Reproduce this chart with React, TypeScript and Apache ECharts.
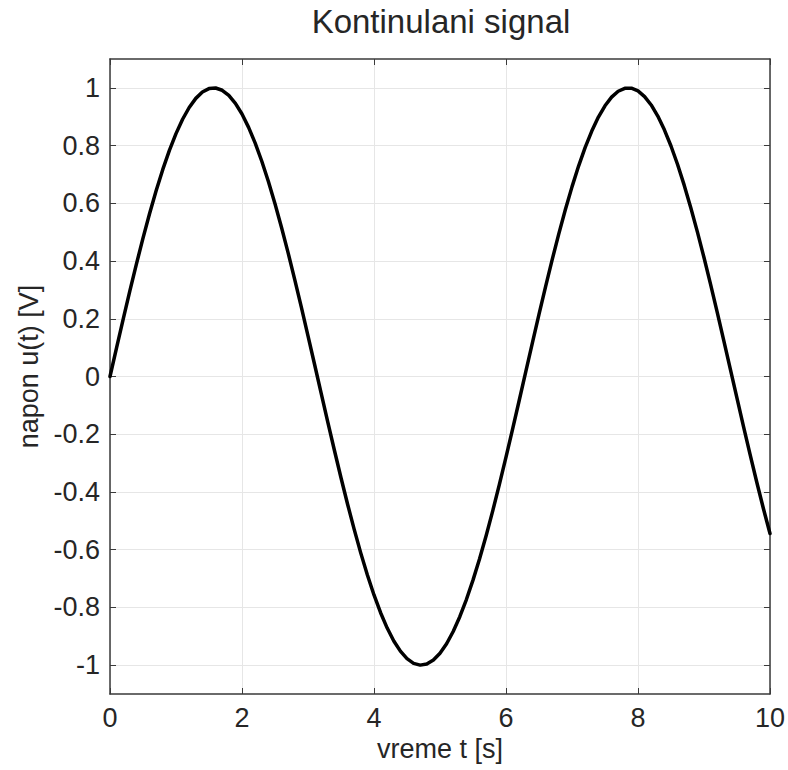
import React, { useEffect, useRef } from "react";
import * as echarts from "echarts";

const titleText = "Kontinulani signal";
const xName = "vreme t [s]";
const yName = "napon u(t) [V]";

// time samples [s] and voltage values
const timeValues = [
  0, 0.1, 0.2, 0.3, 0.4, 0.5, 0.6, 0.7, 0.8, 0.9,
  1, 1.1, 1.2, 1.3, 1.4, 1.5, 1.6, 1.7, 1.8, 1.9,
  2, 2.1, 2.2, 2.3, 2.4, 2.5, 2.6, 2.7, 2.8, 2.9,
  3, 3.1, 3.2, 3.3, 3.4, 3.5, 3.6, 3.7, 3.8, 3.9,
  4, 4.1, 4.2, 4.3, 4.4, 4.5, 4.6, 4.7, 4.8, 4.9,
  5, 5.1, 5.2, 5.3, 5.4, 5.5, 5.6, 5.7, 5.8, 5.9,
  6, 6.1, 6.2, 6.3, 6.4, 6.5, 6.6, 6.7, 6.8, 6.9,
  7, 7.1, 7.2, 7.3, 7.4, 7.5, 7.6, 7.7, 7.8, 7.9,
  8, 8.1, 8.2, 8.3, 8.4, 8.5, 8.6, 8.7, 8.8, 8.9,
  9, 9.1, 9.2, 9.3, 9.4, 9.5, 9.6, 9.7, 9.8, 9.9,
  10,
];
const voltageValues = [
  0, 0.0998, 0.1987, 0.2955, 0.3894, 0.4794, 0.5646, 0.6442, 0.7174, 0.7833,
  0.8415, 0.8912, 0.932, 0.9636, 0.9854, 0.9975, 0.9996, 0.9917, 0.9738, 0.9463,
  0.9093, 0.8632, 0.8085, 0.7457, 0.6755, 0.5985, 0.5155, 0.4274, 0.335, 0.2392,
  0.1411, 0.0416, -0.0584, -0.1577, -0.2555, -0.3508, -0.4425, -0.5298, -0.6119, -0.6878,
  -0.7568, -0.8183, -0.8716, -0.9162, -0.9516, -0.9775, -0.9937, -0.9999, -0.9962, -0.9825,
  -0.9589, -0.9258, -0.8835, -0.8323, -0.7728, -0.7055, -0.6313, -0.5507, -0.4646, -0.3739,
  -0.2794, -0.1822, -0.0831, 0.0168, 0.1165, 0.2151, 0.3115, 0.4048, 0.4941, 0.5784,
  0.657, 0.729, 0.7937, 0.8504, 0.8987, 0.938, 0.9679, 0.9882, 0.9985, 0.9989,
  0.9894, 0.9699, 0.9407, 0.9022, 0.8546, 0.7985, 0.7344, 0.663, 0.5849, 0.501,
  0.4121, 0.3191, 0.2229, 0.1245, 0.0248, -0.0752, -0.1743, -0.2718, -0.3665, -0.4575,
  -0.544,
];

const xMin = 0;
const xMax = 10;
const xStep = 2;
const yMin = -1.1;
const yMax = 1.1;
const yTicks = [-1, -0.8, -0.6, -0.4, -0.2, 0, 0.2, 0.4, 0.6, 0.8, 1];

export default function App() {
  const ref = useRef<HTMLDivElement>(null);
  useEffect(() => {
    if (!ref.current) return;
    const chart = echarts.init(ref.current, null, { renderer: "svg" });
    const font = "'Liberation Sans', Arial, Helvetica, sans-serif";
    const textColor = "#262626";
    const boxColor = "#3a3a3a";
    const gridColor = "#e6e6e6";
    const data = timeValues.map((t, i) => [t, voltageValues[i]]);
    const isYTick = (v: number) => yTicks.some((t) => Math.abs(t - v) < 1e-6);
    chart.setOption({
      animation: false,
      backgroundColor: "#ffffff",
      title: {
        text: titleText,
        left: 436,
        top: 0,
        textAlign: "center",
        textStyle: { fontFamily: font, fontSize: 33, fontWeight: "normal", color: textColor },
      },
      grid: { left: 110, right: 18, top: 59, bottom: 76, containLabel: false },
      xAxis: [
        {
          type: "value",
          min: xMin,
          max: xMax,
          interval: xStep,
          position: "bottom",
          name: xName,
          nameLocation: "middle",
          nameGap: 40,
          nameTextStyle: { fontFamily: font, fontSize: 27, color: textColor },
          axisLine: { show: true, onZero: false, lineStyle: { color: boxColor, width: 1.5 } },
          axisTick: { show: true, inside: true, length: 6, lineStyle: { color: boxColor } },
          axisLabel: { fontFamily: font, fontSize: 27, color: textColor, margin: 10 },
          splitLine: { show: true, lineStyle: { color: gridColor, width: 1 } },
          z: 3,
        },
        {
          type: "value",
          min: xMin,
          max: xMax,
          interval: xStep,
          position: "top",
          axisLine: { show: true, onZero: false, lineStyle: { color: boxColor, width: 1.5 } },
          axisTick: { show: true, inside: true, length: 6, lineStyle: { color: boxColor } },
          axisLabel: { show: false },
          splitLine: { show: false },
          z: 3,
        },
      ],
      yAxis: [
        {
          type: "value",
          min: yMin,
          max: yMax,
          interval: 0.1,
          position: "left",
          name: yName,
          nameLocation: "middle",
          nameGap: 68,
          nameTextStyle: { fontFamily: font, fontSize: 27, color: textColor, padding: [0, 0, 0, 20] },
          axisLine: { show: true, onZero: false, lineStyle: { color: boxColor, width: 1.5 } },
          axisTick: {
            show: true,
            inside: true,
            length: 6,
            customValues: yTicks,
            lineStyle: { color: boxColor },
          },
          axisLabel: {
            fontFamily: font,
            fontSize: 27,
            color: textColor,
            margin: 10,
            customValues: yTicks,
            formatter: (v: number) => {
              const r = Math.round(v * 10) / 10;
              return isYTick(r) && Math.abs(v - r) < 1e-6 ? String(r) : "";
            },
          },
          splitLine: { show: false },
          z: 3,
        },
        {
          type: "value",
          min: yMin,
          max: yMax,
          interval: 0.1,
          position: "right",
          axisLine: { show: true, onZero: false, lineStyle: { color: boxColor, width: 1.5 } },
          axisTick: {
            show: true,
            inside: true,
            length: 6,
            customValues: yTicks,
            lineStyle: { color: boxColor },
          },
          axisLabel: { show: false },
          splitLine: { show: false },
          z: 3,
        },
      ],
      series: [
        {
          type: "line",
          data,
          xAxisIndex: 0,
          yAxisIndex: 0,
          smooth: false,
          showSymbol: false,
          z: 5,
          lineStyle: { color: "#000000", width: 3.5, join: "round", cap: "round" },
          markLine: {
            silent: true,
            symbol: "none",
            label: { show: false },
            lineStyle: { color: gridColor, width: 1, type: "solid" },
            data: yTicks.map((t) => ({ yAxis: t })),
            z: 0,
          },
        },
      ],
    });
    return () => chart.dispose();
  }, []);
  return (
    <div
      ref={ref}
      style={{ position: "fixed", left: 0, top: 0, width: 788, height: 770 }}
    />
  );
}
